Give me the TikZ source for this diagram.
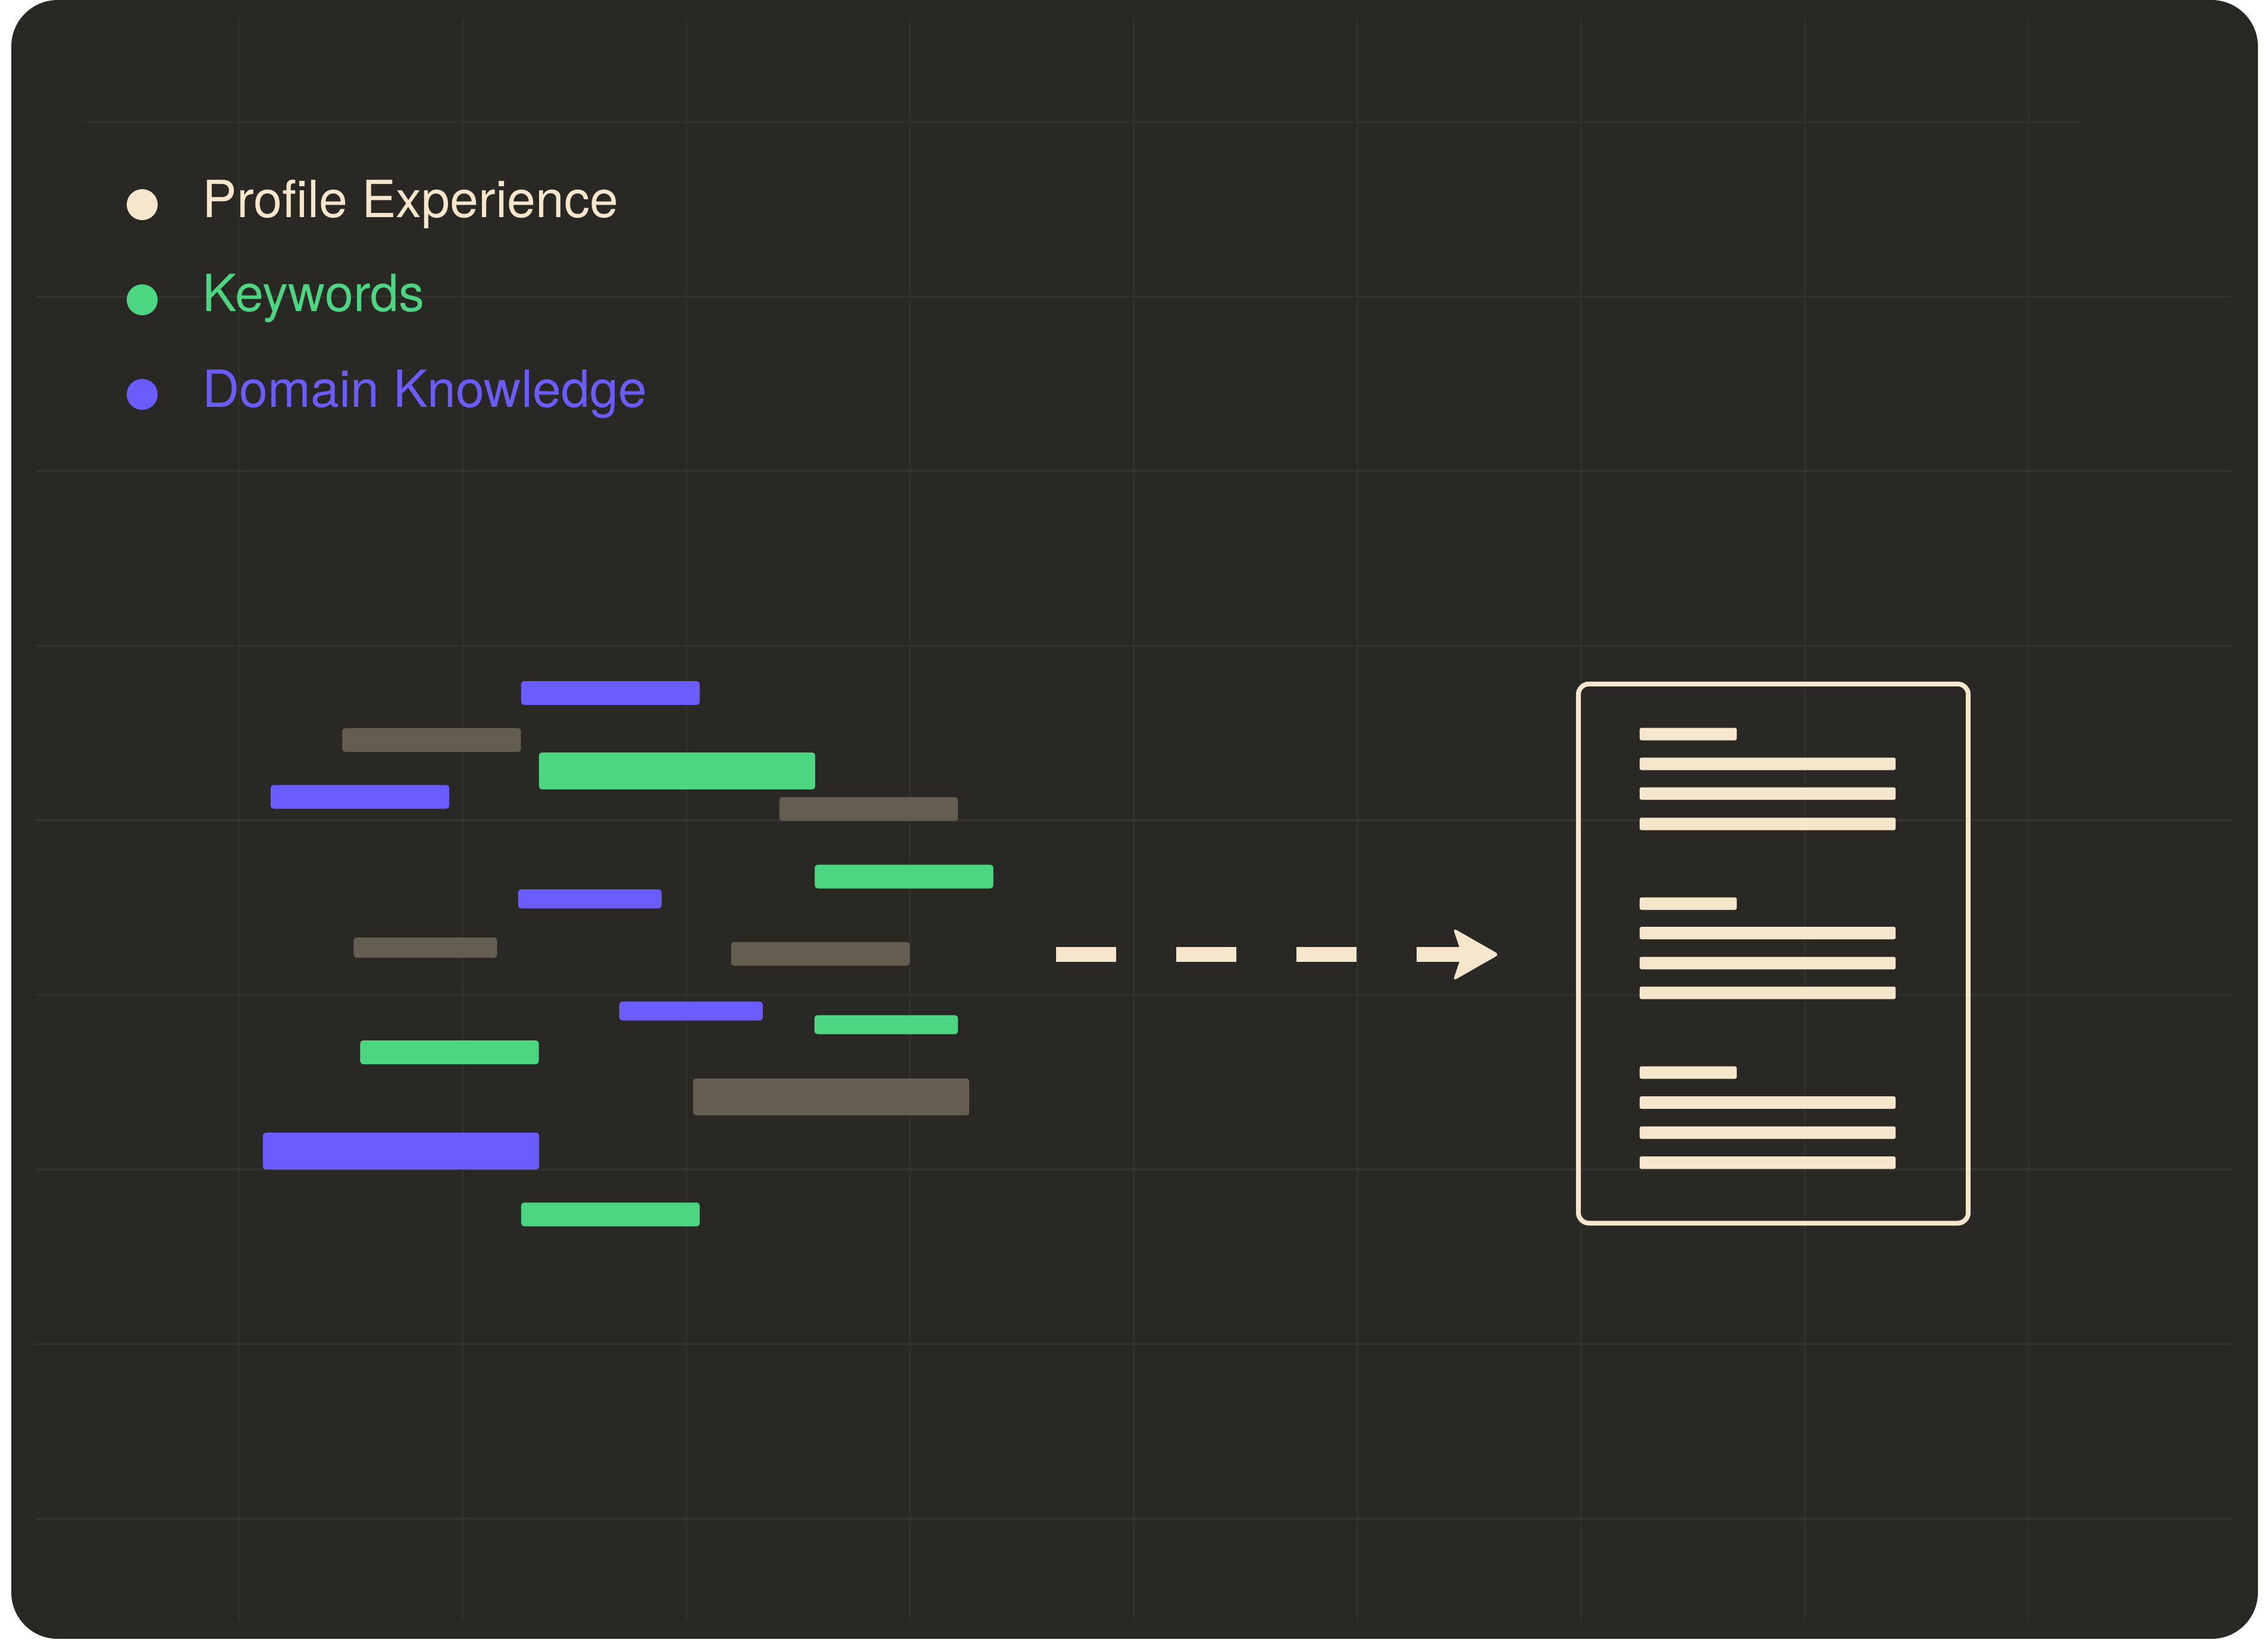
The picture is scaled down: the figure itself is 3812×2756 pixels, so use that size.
\documentclass[tikz,border=0pt]{standalone}
\usepackage{fontspec}
\setmainfont{TeX Gyre Heros}
\definecolor{bgdark}{HTML}{292824}
\definecolor{cream}{HTML}{F6E6CB}
\definecolor{kgreen}{HTML}{4CD681}
\definecolor{kpurple}{HTML}{6B5CFE}
\definecolor{kgray}{HTML}{645D52}
\definecolor{gridv}{HTML}{302F2B}
\definecolor{gridh}{HTML}{34332E}
\tikzset{
  barbox/.style={rectangle, rounded corners=0.05cm, inner sep=0pt, outer sep=0pt, draw=none},
  nbar/.style={barbox, minimum width=3cm, minimum height=0.4cm},
  sbar/.style={barbox, minimum width=2.41cm, minimum height=0.32cm},
  bbar/.style={barbox, minimum width=4.64cm, minimum height=0.62cm},
  legdot/.style={circle, inner sep=0pt, minimum size=0.52cm},
  legtext/.style={anchor=base west, inner sep=0pt, font=\fontsize{24.5pt}{29pt}\selectfont},
  docline/.style={rectangle, rounded corners=0.03cm, inner sep=0pt, outer sep=0pt, fill=cream, minimum height=0.21cm},
}
\begin{document}
\begin{tikzpicture}[x=0.01cm, y=-0.01cm]
\useasboundingbox (0,0) rectangle (3812,2756);
\fill[white] (0,0) rectangle (3812,2756);
\fill[bgdark, rounded corners=0.78cm] (19,0) rectangle (3795,2755);
% grid
\foreach \gx in {401,777,1153,1529,1905,2281,2657,3033,3409}
  \draw[gridv, line width=0.03cm] (\gx,30) -- (\gx,2725);
\draw[gridv, line width=0.035cm] (140,205) -- (3500,205);
\foreach \gy in {498.5,792,1085.5,1379,1672.5,1966,2259.5,2553}
  \draw[gridh, line width=0.035cm] (60,\gy) -- (3750,\gy);
% legend
\node[legdot, fill=cream] (d1) at (239,344) {};
\node[legdot, fill=kgreen] (d2) at (239,504) {};
\node[legdot, fill=kpurple] (d3) at (239,663) {};
\node[legtext, text=cream] (t1) at (340,365) {Profile Experience};
\node[legtext, text=kgreen] (t2) at (340,523) {Keywords};
\node[legtext, text=kpurple] (t3) at (340,684) {Domain Knowledge};
% bars
\node[nbar, fill=kpurple] (b1) at (1026,1165) {};
\node[nbar, fill=kgray] (b2) at (725.5,1244) {};
\node[bbar, fill=kgreen] (b3) at (1138,1296) {};
\node[nbar, fill=kpurple] (b4) at (605,1339.5) {};
\node[nbar, fill=kgray] (b5) at (1460,1360) {};
\node[nbar, fill=kgreen] (b6) at (1519.5,1473.5) {};
\node[sbar, fill=kpurple] (b7) at (991.5,1511) {};
\node[sbar, fill=kgray, minimum height=0.34cm] (b8) at (715,1593) {};
\node[nbar, fill=kgray] (b9) at (1379,1603.5) {};
\node[sbar, fill=kpurple] (b10) at (1161.5,1699.5) {};
\node[sbar, fill=kgreen] (b11) at (1489.5,1722.5) {};
\node[nbar, fill=kgreen] (b12) at (755.5,1769) {};
\node[bbar, fill=kgray] (b13) at (1397,1844) {};
\node[bbar, fill=kpurple] (b14) at (674,1935) {};
\node[nbar, fill=kgreen] (b15) at (1026,2041.5) {};
% arrow
\coordinate (as) at (1775,1604.5);
\coordinate (ae) at (2458,1604.5);
\draw[cream, line width=0.25cm, dash pattern=on 1.01cm off 1.01cm] (as) -- (ae);
\fill[cream, rounded corners=0.07cm] (2520,1604.5) -- (2442,1560) -- (2457,1604.5) -- (2442,1649) -- cycle;
% document
\node[draw=cream, line width=0.08cm, rounded corners=0.18cm, minimum width=6.55cm, minimum height=9.06cm, inner sep=0pt, outer sep=0pt] (doc) at (2980.5,1603) {};
\foreach \cy/\grp in {1234/a,1519/b,1803/c}{
  \node[docline, minimum width=1.63cm] (h\grp) at (2837.5,\cy) {};
}
\foreach \cy [count=\i] in {1284,1334,1385,1568.5,1619,1669,1853.5,1904,1954.5}{
  \node[docline, minimum width=4.30cm] (l\i) at (2971,\cy) {};
}
\end{tikzpicture}
\end{document}
